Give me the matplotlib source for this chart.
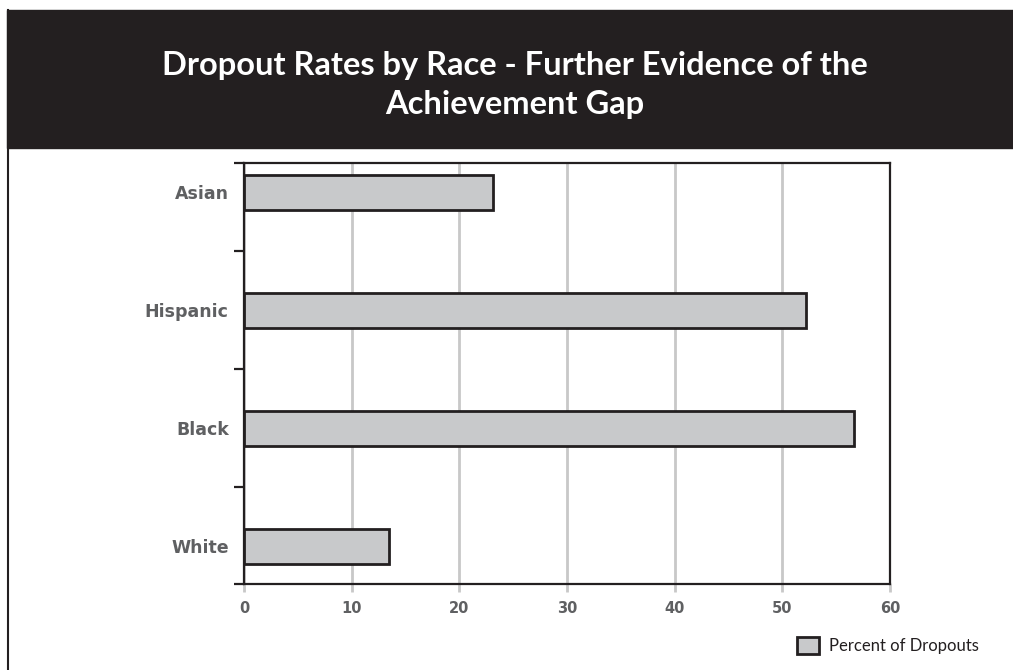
import matplotlib
matplotlib.use("Agg")
import matplotlib.pyplot as plt
from matplotlib.patches import Rectangle
from matplotlib.lines import Line2D

races = ['White', 'Black', 'Hispanic', 'Asian']
dropouts = [13.5, 56.7, 52.2, 23.1]
xticks = [0, 10, 20, 30, 40, 50, 60]

dark = '#231f20'
grey_txt = '#5f6062'

fig = plt.figure(figsize=(10.13, 6.7), dpi=100)

# black header band and left frame line
fig.patches.append(Rectangle((7 / 1013, 522 / 670), 1 - 7 / 1013, 138 / 670,
                             transform=fig.transFigure, color=dark, zorder=0))
fig.lines.append(Line2D([8 / 1013, 8 / 1013], [0, 660 / 670], transform=fig.transFigure,
                        color=dark, lw=1.5))
fig.text(0.508, 0.873, 'Dropout Rates by Race - Further Evidence of the\nAchievement Gap',
         ha='center', va='center', color='white', fontsize=23.5, fontweight='bold',
         family='Lato', linespacing=1.45)

ax = fig.add_axes([244 / 1013, 86 / 670, 646 / 1013, 421 / 670])
ypos = range(len(races))
ax.barh(ypos, dropouts, height=0.3, color='#c8c9cb', edgecolor=dark, linewidth=2,
        label='Percent of Dropouts', zorder=3)

ax.set_xlim(0, 60)
ax.set_ylim(-0.32, 3.25)
ax.set_xticks(xticks)
ax.set_xticklabels([str(t) for t in xticks])
ax.set_yticks(list(ypos))
ax.set_yticklabels(races)
ax.set_yticks([-0.32, 0.5, 1.5, 2.5, 3.25], minor=True)

ax.grid(axis='x', color='#c8c8c8', lw=2, zorder=0)
for s in ax.spines.values():
    s.set_color(dark)
    s.set_linewidth(1.6)

ax.tick_params(axis='y', which='major', length=0, pad=11, labelcolor=grey_txt)
ax.tick_params(axis='y', which='minor', length=7, width=1.6, color=dark)
ax.tick_params(axis='x', length=6, width=2, color='#c8c8c8', pad=6, labelcolor=grey_txt)
for i in (0, -1):
    ax.xaxis.get_major_ticks()[i].tick1line.set_color(dark)
for lab in ax.get_yticklabels():
    lab.set_fontweight('bold')
    lab.set_family('DejaVu Sans')
    lab.set_fontsize(12.5)
for lab in ax.get_xticklabels():
    lab.set_fontweight('bold')
    lab.set_family('DejaVu Sans')
    lab.set_fontsize(10.5)

leg = ax.legend(loc='upper right', bbox_to_anchor=(994 / 1013, 48 / 670),
                bbox_transform=fig.transFigure, frameon=False,
                handlelength=1.3, handleheight=1.2, handletextpad=0.6,
                prop={'family': 'Lato', 'size': 12})
for t in leg.get_texts():
    t.set_color(dark)

fig.savefig('out.png', dpi=100)
